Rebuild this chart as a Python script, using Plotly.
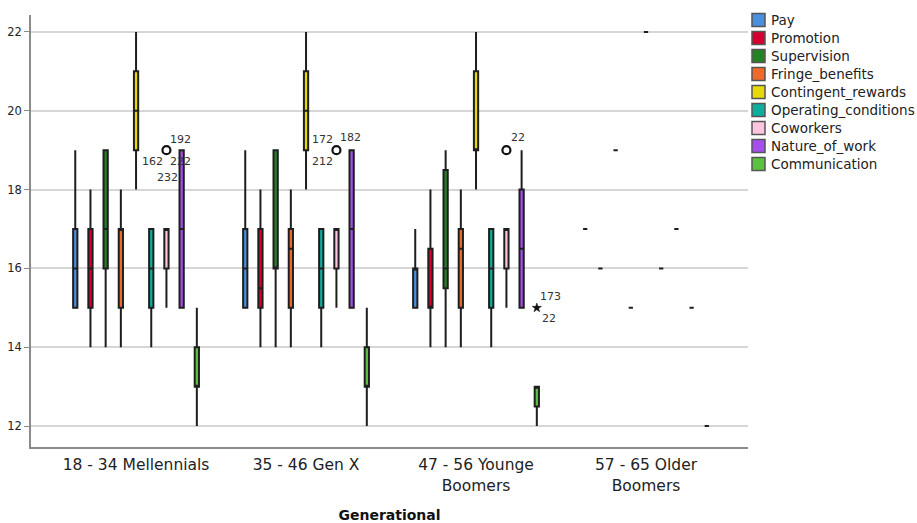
import plotly.graph_objects as go

# ---------------- data ----------------
categories = ["18 - 34 Mellennials", "35 - 46 Gen X", "47 - 56 Younge<br>Boomers", "57 - 65 Older<br>Boomers"]
facets = ["Pay", "Promotion", "Supervision", "Fringe_benefits", "Contingent_rewards",
          "Operating_conditions", "Coworkers", "Nature_of_work", "Communication"]

# per facet: values for the 4 generations
lower = {
    "Pay": [15, 15, 15, 17], "Promotion": [14, 14, 14, 16], "Supervision": [14, 14, 14, 19],
    "Fringe_benefits": [14, 14, 14, 15], "Contingent_rewards": [18, 18, 18, 22],
    "Operating_conditions": [14, 14, 14, 16], "Coworkers": [15, 15, 15, 17],
    "Nature_of_work": [15, 15, 15, 15], "Communication": [12, 12, 12, 12],
}
q1 = {
    "Pay": [15, 15, 15, 17], "Promotion": [15, 15, 15, 16], "Supervision": [16, 16, 15.5, 19],
    "Fringe_benefits": [15, 15, 15, 15], "Contingent_rewards": [19, 19, 19, 22],
    "Operating_conditions": [15, 15, 15, 16], "Coworkers": [16, 16, 16, 17],
    "Nature_of_work": [15, 15, 15, 15], "Communication": [13, 13, 12.5, 12],
}
median = {
    "Pay": [16, 16, 16, 17], "Promotion": [16, 15.5, 15, 16], "Supervision": [17, 16, 16, 19],
    "Fringe_benefits": [17, 16.5, 16.5, 15], "Contingent_rewards": [20, 20, 19, 22],
    "Operating_conditions": [16, 16, 16, 16], "Coworkers": [17, 17, 17, 17],
    "Nature_of_work": [17, 17, 16.5, 15], "Communication": [13, 13, 13, 12],
}
q3 = {
    "Pay": [17, 17, 16, 17], "Promotion": [17, 17, 16.5, 16], "Supervision": [19, 19, 18.5, 19],
    "Fringe_benefits": [17, 17, 17, 15], "Contingent_rewards": [21, 21, 21, 22],
    "Operating_conditions": [17, 17, 17, 16], "Coworkers": [17, 17, 17, 17],
    "Nature_of_work": [19, 19, 18, 15], "Communication": [14, 14, 13, 12],
}
upper = {
    "Pay": [19, 19, 17, 17], "Promotion": [18, 18, 18, 16], "Supervision": [19, 19, 19, 19],
    "Fringe_benefits": [18, 18, 18, 15], "Contingent_rewards": [22, 22, 22, 22],
    "Operating_conditions": [17, 17, 17, 16], "Coworkers": [17, 17, 17, 17],
    "Nature_of_work": [19, 19, 19, 15], "Communication": [15, 15, 13, 12],
}

# outliers: (facet, generation index, value, kind, case labels)
outliers = [
    ("Coworkers", 0, 19, "o", ["192", "162", "222", "232"]),
    ("Coworkers", 1, 19, "o", ["172", "212", "182"]),
    ("Coworkers", 2, 19, "o", ["22"]),
    ("Communication", 2, 15, "*", ["173", "22"]),
]

# ---------------- styles ----------------
colors = {
    "Pay": "#4C8FE0", "Promotion": "#D6002F", "Supervision": "#268226",
    "Fringe_benefits": "#F26A2A", "Contingent_rewards": "#E6D90A",
    "Operating_conditions": "#0DAE9C", "Coworkers": "#FFC4DE",
    "Nature_of_work": "#A64DF0", "Communication": "#5CC23E",
}
# pixel offsets of case labels around each outlier
label_offsets = [
    [(14, 11), (-14, -11), (14, -11), (1, -27)],
    [(-14, 11), (-14, -11), (14, 13)],
    [(12, 13)],
    [(14, 11), (12, -11)],
]

FONT = "DejaVu Sans, Liberation Sans, Arial, sans-serif"
W, H = 917, 523
ML, MR, MT, MB = 31, 169, 15, 76
PW, PH = W - ML - MR, H - MT - MB
STEP = 0.0894      # slot per box in category units
BOXW = 0.025

def xpos(facet, gi):
    return gi + (facets.index(facet) - (len(facets) - 1) / 2) * STEP

fig = go.Figure()
for f in facets:
    xs = [xpos(f, gi) for gi in range(len(categories))]
    fig.add_trace(go.Box(
        name=f, x=xs, q1=q1[f], median=median[f], q3=q3[f],
        lowerfence=lower[f], upperfence=upper[f],
        width=BOXW, whiskerwidth=0, fillcolor=colors[f],
        line=dict(color="#1e1e1e", width=2),
        boxpoints=False, showlegend=False, hoverinfo="skip",
    ))

for k, (f, gi, val, kind, labels) in enumerate(outliers):
    x0 = xpos(f, gi)
    fig.add_trace(go.Scatter(
        x=[x0], y=[val], mode="markers", showlegend=False, hoverinfo="skip",
        marker=dict(symbol="circle-open" if kind == "o" else "star",
                    size=8 if kind == "o" else 7, color="#111111",
                    line=dict(width=2.2 if kind == "o" else 0.5, color="#111111")),
    ))
    for lab, (dx, dy) in zip(labels, label_offsets[k]):
        fig.add_annotation(x=x0, y=val, xref="x", yref="y", text=lab, showarrow=False,
                           xshift=dx, yshift=dy, font=dict(family=FONT, size=11, color="#333333"))

# custom legend (SPSS style)
def px_x(p):
    return (p - ML) / PW

def px_y(p):
    return (H - MB - p) / PH

for i, f in enumerate(facets):
    cy = 20 + 18 * i
    fig.add_shape(type="rect", xref="paper", yref="paper",
                  x0=px_x(752), x1=px_x(765), y0=px_y(cy + 6.5), y1=px_y(cy - 6.5),
                  fillcolor=colors[f], line=dict(color="#555555", width=1.5))
    fig.add_annotation(xref="paper", yref="paper", x=px_x(769), y=px_y(cy),
                       xanchor="left", yanchor="middle", text=f, showarrow=False,
                       font=dict(family=FONT, size=13.5, color="#222222"))

fig.update_layout(
    width=W, height=H, margin=dict(l=ML, r=MR, t=MT, b=MB, autoexpand=False),
    paper_bgcolor="white", plot_bgcolor="white", boxmode="overlay",
    font=dict(family=FONT, color="#222222"),
    xaxis=dict(range=[-0.618, 3.6], tickmode="array", tickvals=list(range(len(categories))),
               ticktext=categories, showgrid=False, zeroline=False, showline=True,
               linecolor="#8a8a8a", linewidth=1.5, ticks="", ticklabelstandoff=3,
               automargin=False,
               tickfont=dict(family=FONT, size=15.5, color="#222222"),
               title=dict(text="<b>Generational</b>", standoff=18,
                          font=dict(family=FONT, size=14, color="#111111"))),
    yaxis=dict(range=[11.47, 22.43], tickvals=[12, 14, 16, 18, 20, 22], showgrid=True,
               gridcolor="#d6d6d6", gridwidth=1.5, zeroline=False, showline=True,
               automargin=False,
               linecolor="#8a8a8a", linewidth=1.5, ticks="outside", ticklen=5,
               tickcolor="#8a8a8a", tickfont=dict(family=FONT, size=11.5, color="#222222")),
)

fig.write_html("out.html")
